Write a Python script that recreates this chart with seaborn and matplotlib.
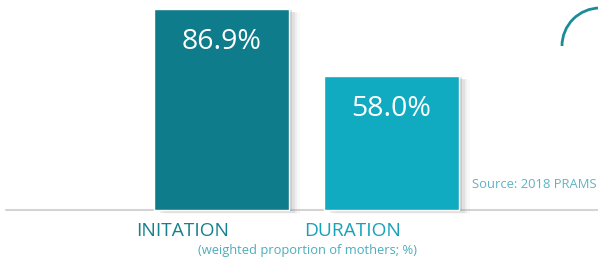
import matplotlib
matplotlib.use("Agg")
import matplotlib.pyplot as plt
import matplotlib.patheffects as pe
from matplotlib.patches import Arc
import seaborn as sns
import pandas as pd

categories = ["INITATION", "DURATION"]
values = [86.9, 58.0]
value_labels = ["86.9%", "58.0%"]
bar_colors = ["#0e7c8a", "#10aac1"]
label_colors = ["#17808e", "#16a2b8"]

sns.set_style("white")
plt.rcParams["font.family"] = ["Open Sans", "DejaVu Sans"]

df = pd.DataFrame({"category": categories, "value": values})

W, H = 598, 261
fig = plt.figure(figsize=(W / 100, H / 100), dpi=100)
ax = fig.add_axes([0, 0, 1, 1])

sns.barplot(data=df, x="category", y="value", hue="category", palette=bar_colors,
            width=0.794, legend=False, ax=ax, saturation=1)

# soft drop shadow on bars (stacked offsets to fake a blur)
for p in ax.patches:
    p.set_path_effects([
        pe.SimplePatchShadow(offset=(8, -3), shadow_rgbFace="#999999", alpha=0.06),
        pe.SimplePatchShadow(offset=(6, -2), shadow_rgbFace="#999999", alpha=0.09),
        pe.SimplePatchShadow(offset=(4, -2), shadow_rgbFace="#888888", alpha=0.14),
        pe.SimplePatchShadow(offset=(2, -1), shadow_rgbFace="#777777", alpha=0.2),
        pe.Normal(),
    ])
    p.set_zorder(3)

px_per_unit_x = 170.0
px_per_unit_y = 2.312
base_px = 51
ax.set_xlim(-221.5 / px_per_unit_x, (W - 221.5) / px_per_unit_x)
ax.set_ylim(-base_px / px_per_unit_y, (H - base_px) / px_per_unit_y)
ax.axis("off")

ax.axhline(0, xmin=6 / W, xmax=1, color="#d4d4d4", lw=1.5, zorder=1)

for i, (v, lab) in enumerate(zip(values, value_labels)):
    ax.text(i, v - 14.4, lab, ha="center", va="center", color="white",
            fontsize=20.5, zorder=5)

for i, (cat, c) in enumerate(zip(categories, label_colors)):
    ax.text(i - 0.23, -9.0, cat, ha="center", va="center", color=c, fontsize=13.8)

ax.text(0.503, -17.4, "(weighted proportion of mothers; %)", ha="center",
        va="center", color="#4aaebd", fontsize=9.3)

fig.text(597 / W, 1 - 185 / H, "Source: 2018 PRAMS", ha="right", va="center",
         color="#5fb4c2", fontsize=9.4)

r = 38
arc = Arc((600 / W, 1 - 46 / H), 2 * r / W, 2 * r / H, theta1=90, theta2=180,
          transform=fig.transFigure, color="#1a8c98", lw=2)
fig.add_artist(arc)

fig.savefig("out.png", dpi=100)
